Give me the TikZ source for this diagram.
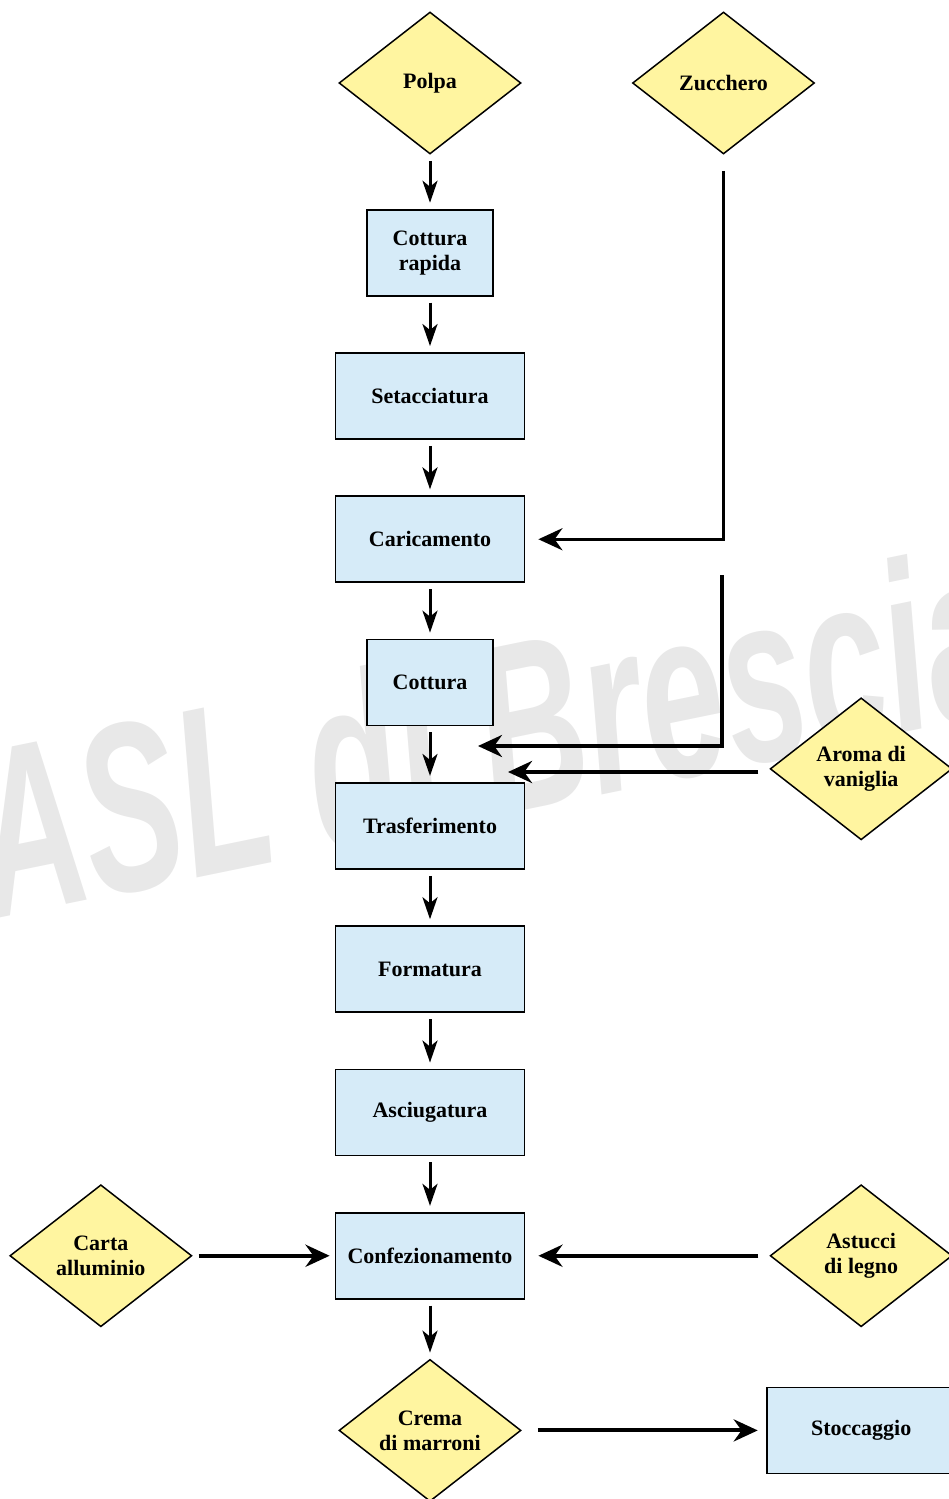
\documentclass[tikz,border=0pt]{standalone}
\usepackage{fontspec}
\setmainfont{Liberation Serif}
\newfontfamily\markfont{Liberation Sans}
\usetikzlibrary{shapes,arrows.meta,positioning}
\definecolor{clrStep}{HTML}{D6EBF8}
\definecolor{clrInput}{HTML}{FFF5A0}
\definecolor{clrMark}{HTML}{E8E8E8}
\tikzstyle{box_style}=[draw, line width=1.8pt, fill=clrStep, align=center,
font=\bfseries\fontsize{22}{25}\selectfont, minimum width=189pt, minimum height=86pt, inner sep=2pt]
\tikzstyle{box_small}=[box_style, minimum width=126pt]
\tikzstyle{input_style}=[diamond, draw, line width=1.5pt, fill=clrInput, align=center,
font=\bfseries\fontsize{22}{25}\selectfont, minimum width=182pt, minimum height=142pt, inner sep=0pt, shape aspect=1.28]
\tikzstyle{arrow_down}=[-{Stealth[length=22pt,width=15pt,inset=6pt]}, line width=3pt, shorten <=6pt, shorten >=6pt]
\tikzstyle{arrow_side}=[-{Stealth[length=24pt,width=22pt]}, line width=4pt]
\tikzstyle{arrow_bend}=[arrow_side, line width=3.5pt]

\begin{document}
\begin{tikzpicture}[node distance=55.5pt]
		\useasboundingbox (0,0) rectangle (949pt,-1499pt);
		\clip (0,0) rectangle (949pt,-1499pt);

		% filigrana
		\node[text=clrMark, font=\markfont\bfseries\itshape\fontsize{240}{240}\selectfont, anchor=base west,
			rotate=11.6, xscale=0.62, inner sep=0pt] (mark) at (-8pt,-920pt) {ASL di Brescia};

		\node[input_style] (polpa) at (430pt,-83pt) {Polpa} ;
		\node[input_style, right=110pt of polpa] (zucch) {Zucchero} ;

		\node[box_small, below=54pt of polpa] (cottrap) {Cottura\\rapida} ;
		\draw[arrow_down] (polpa) -- (cottrap) ;

		\node[box_style, below=of cottrap] (setacc) {Setacciatura} ;
		\draw[arrow_down] (cottrap) -- (setacc) ;

		\node[box_style, below=of setacc] (caric) {Caricamento} ;
		\draw[arrow_down] (setacc) -- (caric) ;
		\draw[arrow_bend, shorten <=16pt, shorten >=13pt] (zucch) |- (caric) ;

		\node[box_small, below=of caric] (cottura) {Cottura} ;
		\draw[arrow_down] (caric) -- (cottura) ;

		\node[box_style, below=of cottura] (trasf) {Trasferimento} ;
		\draw[arrow_down] (cottura) -- (trasf) ;

		\node[input_style, right=244pt of trasf, yshift=57pt] (aroma) {Aroma di\\vaniglia} ;
		\coordinate (zuccStart) at (722pt,-575pt) ;
		\coordinate (zuccEnd) at (478pt,-746pt) ;
		\draw[arrow_bend] (zuccStart) |- (zuccEnd) ;
		\coordinate (aromaEnd) at (508pt,-772pt) ;
		\draw[arrow_side, shorten <=11pt] (aroma.west |- aromaEnd) -- (aromaEnd) ;

		\node[box_style, below=of trasf] (format) {Formatura} ;
		\draw[arrow_down] (trasf) -- (format) ;

		\node[box_style, below=of format] (asciug) {Asciugatura} ;
		\draw[arrow_down] (format) -- (asciug) ;

		\node[box_style, below=of asciug] (confez) {Confezionamento} ;
		\draw[arrow_down] (asciug) -- (confez) ;

		\node[input_style, left=142pt of confez] (carta) {Carta\\alluminio} ;
		\draw[arrow_side, shorten <=6pt, shorten >=5pt] (carta) -- (confez) ;

		\node[input_style, right=244pt of confez] (astucci) {Astucci\\di legno} ;
		\draw[arrow_side, shorten <=11pt, shorten >=13pt] (astucci) -- (confez) ;

		\node[input_style, below=59pt of confez] (crema) {Crema\\di marroni} ;
		\draw[arrow_down] (confez) -- (crema) ;

		\node[box_style, right=244pt of crema] (stocc) {Stoccaggio} ;
		\draw[arrow_side, shorten <=16pt, shorten >=8pt] (crema) -- (stocc) ;
	\end{tikzpicture}
\end{document}
